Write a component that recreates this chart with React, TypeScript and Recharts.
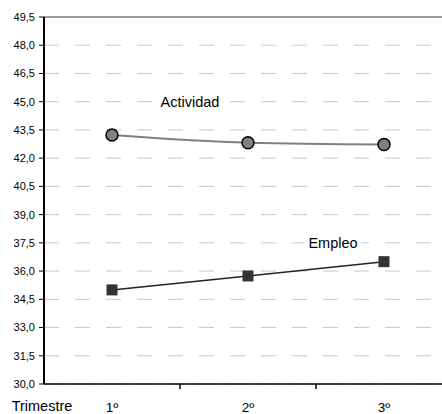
import React from 'react';
import { LineChart, Line, XAxis, YAxis, CartesianGrid, ReferenceLine, ReferenceDot } from 'recharts';

const trimestres = ['1º', '2º', '3º'];
const actividad = [43.23, 42.82, 42.73];
const empleo = [35.0, 35.74, 36.5];
const yTicks = [30.0, 31.5, 33.0, 34.5, 36.0, 37.5, 39.0, 40.5, 42.0, 43.5, 45.0, 46.5, 48.0, 49.5];

const data = trimestres.map((t, i) => ({ t, actividad: actividad[i], empleo: empleo[i] }));

const FONT = '"Liberation Sans", Arial, sans-serif';
const HALF_BAND = 68;

const XTick = ({ x, y, payload, index }: any) => (
  <g>
    <line x1={x + HALF_BAND} y1={y} x2={x + HALF_BAND} y2={y + 5} stroke="#000" strokeWidth={1.5} />
    <text x={x} y={y + 28} textAnchor="middle" fontSize={13.5} fontFamily={FONT} fill="#000">
      {payload.value}
    </text>
    {index === 0 && (
      <text x={x - 70} y={y + 27} textAnchor="middle" fontSize={14.5} fontFamily={FONT} fill="#000">
        Trimestre
      </text>
    )}
  </g>
);

const SeriesLabel = (text: string, dx: number, w: number) => ({ cx, cy }: any) => (
  <g>
    <rect x={cx + dx - w / 2} y={cy - 6} width={w} height={12} fill="#fff" />
    <text x={cx + dx} y={cy + 5} textAnchor="middle" fontSize={14.5} fontFamily={FONT} fill="#000">
      {text}
    </text>
  </g>
);

const Square = ({ cx, cy }: any) => (
  <rect x={cx - 5.5} y={cy - 5.5} width={11} height={11} fill="#333" />
);

export default function App() {
  return (
    <div style={{ position: 'absolute', left: 0, top: 0, width: 442, height: 414, overflow: 'hidden', background: '#fff' }}>
      <LineChart width={452} height={414} data={data} margin={{ top: 17, right: 0, bottom: 0, left: 0 }}>
        <CartesianGrid vertical={false} stroke="#c8c8c8" strokeDasharray="15 16" />
        <XAxis
          dataKey="t"
          height={30}
          padding={{ left: HALF_BAND, right: HALF_BAND }}
          axisLine={{ stroke: '#000', strokeWidth: 1.5 }}
          tickLine={false}
          tickSize={0}
          tickMargin={0}
          tick={<XTick />}
          interval={0}
        />
        <YAxis
          width={44}
          domain={[30, 49.5]}
          ticks={yTicks}
          interval={0}
          tickFormatter={(v: number) => v.toFixed(1).replace('.', ',')}
          axisLine={{ stroke: '#000', strokeWidth: 2 }}
          tickLine={{ stroke: '#000' }}
          tickSize={5}
          tickMargin={4}
          tick={{ fontSize: 11, fontFamily: FONT, fill: '#000' }}
        />
        <ReferenceLine y={49.5} stroke="#9a9a9a" strokeWidth={2} />
        <Line
          type="monotone"
          dataKey="actividad"
          stroke="#808080"
          strokeWidth={2}
          dot={{ r: 6, fill: '#808080', stroke: '#000', strokeWidth: 1.5 }}
          isAnimationActive={false}
        />
        <Line
          type="linear"
          dataKey="empleo"
          stroke="#222"
          strokeWidth={1.5}
          dot={<Square />}
          isAnimationActive={false}
        />
        <ReferenceDot x="1º" y={45.0} r={0} shape={SeriesLabel('Actividad', 78, 66)} />
        <ReferenceDot x="3º" y={37.5} r={0} shape={SeriesLabel('Empleo', -51, 56)} />
      </LineChart>
    </div>
  );
}
